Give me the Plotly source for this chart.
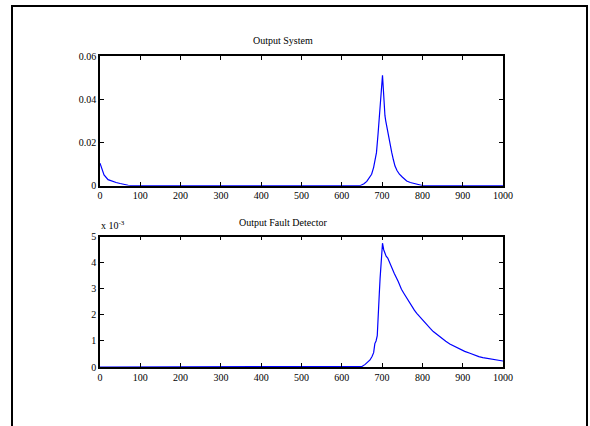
import plotly.graph_objects as go

# ---- data ----
sys_x = [0, 5, 10, 20, 30, 40, 50, 60, 70, 80, 90, 645, 655, 662, 668, 674, 679, 681, 686, 690, 693, 696, 699, 701,
         703, 705, 707, 709, 712, 715, 718, 721, 724, 728, 732, 737, 743, 750, 761, 770, 778, 785, 792, 800, 810, 1000]
sys_y = [0.0104, 0.0072, 0.0050, 0.0028, 0.0020, 0.0015, 0.0010, 0.0005, 0.0002, 0.0001, 0.0, 0.0, 0.0009, 0.0020,
         0.0035, 0.0053, 0.0085, 0.0106, 0.0153, 0.0240, 0.0315, 0.0430, 0.0480, 0.0511,
         0.0450, 0.0340, 0.0325, 0.0300, 0.0270, 0.0230, 0.0215, 0.0180, 0.0153, 0.0120, 0.0091, 0.0070, 0.0053,
         0.0040, 0.0022, 0.0015, 0.0011, 0.0007, 0.0004, 0.0001, 0.0, 0.0]

fault_x = [0, 640, 650, 658, 665, 670, 675, 679, 682, 685, 688, 691, 693, 695, 697, 699, 701, 704, 707, 710, 714,
           720, 725, 730, 740, 748, 755, 761, 768, 773, 780, 786, 792, 798, 805, 811, 820, 827, 838, 848, 858, 868,
           880, 893, 905, 918, 930, 940, 950, 960, 975, 990, 1000]
fault_y_e3 = [0, 0, 0.02, 0.10, 0.20, 0.27, 0.40, 0.55, 0.90, 1.00, 1.20, 1.90, 2.80, 3.40, 3.90, 4.40, 4.75, 4.50,
              4.37, 4.25, 4.18, 3.94, 3.75, 3.60, 3.28, 2.98, 2.80, 2.64, 2.45, 2.35, 2.18, 2.06, 1.95, 1.83, 1.72,
              1.62, 1.47, 1.36, 1.22, 1.10, 0.99, 0.88, 0.78, 0.68, 0.60, 0.53, 0.45, 0.40, 0.36, 0.33, 0.30, 0.26, 0.23]

x_ticks = [0, 100, 200, 300, 400, 500, 600, 700, 800, 900, 1000]
sys_ticks = [0, 0.02, 0.04, 0.06]
sys_tick_text = ["0", "0.02", "0.04", "0.06"]
fault_ticks = [0, 1, 2, 3, 4, 5]

titles = ["Output System", "Output Fault Detector"]

W, H = 590, 426
FONT = dict(family="Liberation Serif, Times New Roman, serif", size=10, color="black")

fig = go.Figure()
fig.add_trace(go.Scatter(x=sys_x, y=sys_y, mode="lines", line=dict(color="#0000ff", width=1.2),
                         xaxis="x", yaxis="y", showlegend=False))
fig.add_trace(go.Scatter(x=fault_x, y=fault_y_e3, mode="lines", line=dict(color="#0000ff", width=1.2),
                         xaxis="x2", yaxis="y2", showlegend=False))

xd = [100 / W, 503 / W]
axcommon = dict(showline=True, linecolor="black", linewidth=1.5, mirror="ticks", ticks="inside",
                ticklen=4, tickcolor="black", tickwidth=1, showgrid=False, zeroline=False,
                tickfont=FONT, automargin=False)

frame = dict(color="black", width=2)
fig.update_layout(
    width=W, height=H,
    margin=dict(l=0, r=0, t=0, b=0, autoexpand=False),
    paper_bgcolor="white", plot_bgcolor="white",
    font=FONT,
    xaxis=dict(domain=xd, range=[0, 1000], tickvals=x_ticks, anchor="y", **axcommon),
    yaxis=dict(domain=[1 - 185.7 / H, 1 - 56 / H], range=[0, 0.06], tickvals=sys_ticks,
               ticktext=sys_tick_text, anchor="x", **axcommon),
    xaxis2=dict(domain=xd, range=[0, 1000], tickvals=x_ticks, anchor="y2", **axcommon),
    yaxis2=dict(domain=[1 - 367 / H, 1 - 236.7 / H], range=[0, 5], tickvals=fault_ticks,
                anchor="x2", **axcommon),
    shapes=[
        dict(type="line", xref="paper", yref="paper", x0=12 / W, x1=12 / W, y0=0, y1=1 - 5 / H, line=frame),
        dict(type="line", xref="paper", yref="paper", x0=587 / W, x1=587 / W, y0=0, y1=1 - 5 / H, line=frame),
        dict(type="line", xref="paper", yref="paper", x0=11 / W, x1=588 / W, y0=1 - 6 / H, y1=1 - 6 / H, line=frame),
    ],
    annotations=[
        dict(text=titles[0], xref="paper", yref="paper", x=283 / W, y=1 - 41 / H, showarrow=False,
             xanchor="center", yanchor="middle", font=FONT),
        dict(text=titles[1], xref="paper", yref="paper", x=283 / W, y=1 - 222 / H, showarrow=False,
             xanchor="center", yanchor="middle", font=FONT),
        dict(text="x 10<sup>-3</sup>", xref="paper", yref="paper", x=99 / W, y=1 - 225 / H, showarrow=False,
             xanchor="left", yanchor="middle", font=FONT),
    ],
)

fig.write_html("out.html", config={"displayModeBar": False},
               post_script="document.body.style.margin='0';")
